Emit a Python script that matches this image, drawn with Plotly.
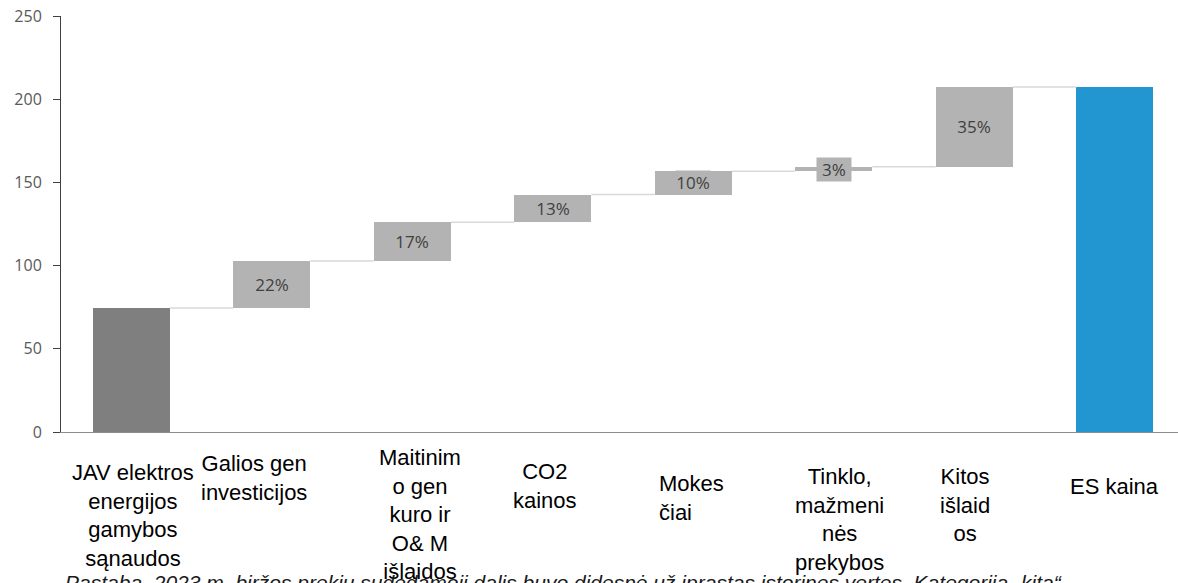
import plotly.graph_objects as go

# Cost components, EUR/MWh
categories = [
    "JAV elektros<br>energijos<br>gamybos<br>sąnaudos",
    "Galios gen<br>investicijos",
    "Maitinim<br>o gen<br>kuro ir<br>O& M<br>išlaidos",
    "CO2<br>kainos",
    "Mokes<br>čiai",
    "Tinklo,<br>mažmeni<br>nės<br>prekybos",
    "Kitos<br>išlaid<br>os",
    "ES kaina",
]
start_value = 74.5
increments = [28.3, 23.3, 16.6, 14.0, 2.7, 47.9]
share_labels = ["22%", "17%", "13%", "10%", "3%", "35%"]
y_ticks = [0, 50, 100, 150, 200, 250]
footnote = ("Pastaba. 2023 m. biržos prekių sudedamoji dalis buvo didesnė už "
            "įprastas istorines vertes. Kategorija „kita“")

# cumulative levels
levels = [start_value]
for inc in increments:
    levels.append(levels[-1] + inc)
total = levels[-1]

n = len(categories)
xs = list(range(n))
bar_w = 0.548

bases = [0] + levels[:-1] + [0]
heights = [start_value] + increments + [total]
colors = ["#7f7f7f"] + ["#b3b3b3"] * len(increments) + ["#2196d0"]

fig = go.Figure()

# connectors between consecutive bars
cx, cy = [], []
for i in range(n - 1):
    lvl = levels[i]
    cx += [xs[i] + bar_w / 2, xs[i + 1] - bar_w / 2, None]
    cy += [lvl, lvl, None]
fig.add_trace(go.Scatter(x=cx, y=cy, mode="lines",
                         line=dict(color="#d9d9d9", width=1.5),
                         hoverinfo="skip", showlegend=False))

fig.add_trace(go.Bar(x=xs, y=heights, base=bases, width=bar_w,
                     marker=dict(color=colors, line=dict(width=0)),
                     showlegend=False))

annotations = []
# share labels at bar midpoints
for i, (inc, lab) in enumerate(zip(increments, share_labels)):
    mid = levels[i] + inc / 2
    annotations.append(dict(x=xs[i + 1], y=mid, xref="x", yref="y",
                            text=lab, showarrow=False, width=34,
                            bgcolor="#b3b3b3", borderpad=0,
                            font=dict(family="Open Sans", size=17, color="#404040")))

# category labels below the axis
label_dx = [2, -18, 8, -8, -36, 6, -9, 0]
label_top = [32, 23, 17, 31, 43, 36, 36, 46]
label_anchor = ["center", "center", "center", "center", "left", "center", "center", "center"]
for i, txt in enumerate(categories):
    annotations.append(dict(x=xs[i], y=0, xref="x", yref="paper",
                            xanchor=label_anchor[i], yanchor="top",
                            align=label_anchor[i],
                            xshift=label_dx[i], yshift=-(label_top[i] - 6),
                            text=txt, showarrow=False,
                            font=dict(family="Liberation Sans, Arial", size=22, color="#000000")))

annotations.append(dict(x=0, y=0, xref="paper", yref="paper", xanchor="left",
                        yanchor="top", xshift=2, yshift=-137,
                        text="<i>" + footnote + "</i>", showarrow=False,
                        font=dict(family="Liberation Sans, Arial", size=21, color="#1a1a1a")))

fig.update_layout(
    width=1178, height=583,
    margin=dict(l=61, r=0, t=16, b=151),
    paper_bgcolor="white", plot_bgcolor="white",
    bargap=0,
    annotations=annotations,
    xaxis=dict(range=[-0.5, 7.45], showticklabels=False, showgrid=False,
               zeroline=False, showline=True, linecolor="#8c8c8c", linewidth=1,
               ticks=""),
    yaxis=dict(range=[0, 250], tickvals=y_ticks, showgrid=False, zeroline=False,
               showline=True, linecolor="#404040", linewidth=1,
               ticks="outside", ticklen=7, tickcolor="#404040",
               ticklabelstandoff=8,
               tickfont=dict(family="Open Sans", size=16, color="#595959")),
)

fig.write_html("out.html")
